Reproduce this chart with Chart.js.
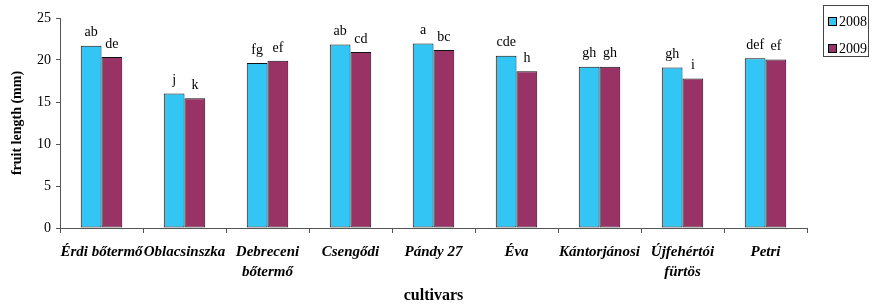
<!DOCTYPE html>
<html>
<head>
<meta charset="utf-8">
<script src="https://cdn.jsdelivr.net/npm/chart.js@4/dist/chart.umd.min.js"></script>
<style>
  html, body { margin: 0; padding: 0; background: #fff; }
  #wrap { position: relative; width: 881px; height: 307px; }
  #legend {
    position: absolute; left: 823px; top: 5px; width: 44px; height: 50px;
    border: 1px solid #444; font-family: "Liberation Serif", serif; font-size: 14px; color: #000;
  }
  #legend div { position: absolute; left: 4px; height: 14px; line-height: 14px; }
  #legend span { display: inline-block; width: 7px; height: 7px; border: 1px solid #000; margin-right: 2px; vertical-align: 0px; }
</style>
</head>
<body>
<div id="wrap">
  <canvas id="chart" width="881" height="307"></canvas>
  <div id="legend">
    <div style="top:9px"><span style="background:#33c5f3"></span>2008</div>
    <div style="top:36px"><span style="background:#993366"></span>2009</div>
  </div>
</div>
<script>
// categorías y valores
const cultivars = ['Érdi bőtermő', 'Oblacsinszka', ['Debreceni', 'bőtermő'], 'Csengődi', 'Pándy 27', 'Éva', 'Kántorjánosi', ['Újfehértói', 'fürtös'], 'Petri'];
const values2008 = [21.7, 16.0, 19.65, 21.85, 21.95, 20.5, 19.2, 19.1, 20.2];
const values2009 = [20.35, 15.45, 19.9, 20.95, 21.2, 18.65, 19.2, 17.8, 20.05];
const letters2008 = ['ab', 'j', 'fg', 'ab', 'a', 'cde', 'gh', 'gh', 'def'];
const letters2009 = ['de', 'k', 'ef', 'cd', 'bc', 'h', 'gh', 'i', 'ef'];
const yTicks = [0, 5, 10, 15, 20, 25];

const serif = '"Liberation Serif", "Times New Roman", serif';

// letras de significancia encima de cada barra
const lettersPlugin = {
  id: 'letters',
  afterDatasetsDraw(chart) {
    const ctx = chart.ctx;
    const sets = [letters2008, letters2009];
    ctx.save();
    ctx.font = '14px ' + serif;
    ctx.fillStyle = '#000';
    ctx.textAlign = 'center';
    ctx.textBaseline = 'bottom';
    chart.data.datasets.forEach((ds, i) => {
      chart.getDatasetMeta(i).data.forEach((bar, j) => {
        ctx.fillText(sets[i][j], bar.x, bar.y - 6);
      });
    });
    ctx.restore();
  }
};

new Chart(document.getElementById('chart'), {
  type: 'bar',
  data: {
    labels: cultivars,
    datasets: [
      { label: '2008', data: values2008, backgroundColor: '#33c5f3', borderColor: '#111', borderWidth: 1, borderSkipped: false, categoryPercentage: 0.5, barPercentage: 1 },
      { label: '2009', data: values2009, backgroundColor: '#993366', borderColor: '#111', borderWidth: 1, borderSkipped: false, categoryPercentage: 0.5, barPercentage: 1 }
    ]
  },
  options: {
    responsive: false,
    animation: false,
    layout: { padding: { top: 18, right: 74, left: 0, bottom: 0 } },
    plugins: { legend: { display: false }, tooltip: { enabled: false } },
    scales: {
      y: {
        min: 0, max: 25,
        afterBuildTicks(scale) { scale.ticks = yTicks.map(v => ({ value: v })); },
        afterFit(scale) { scale.width = 60; },
        border: { color: '#555', width: 1 },
        grid: { drawOnChartArea: false, tickLength: 4, color: '#555' },
        ticks: { color: '#000', font: { family: serif, size: 14 }, padding: 5 },
        title: { display: true, text: 'fruit length (mm)', color: '#000', font: { family: serif, size: 14, weight: 'bold' }, padding: { top: 9, bottom: 0 } }
      },
      x: {
        afterFit(scale) { scale.height = 79; },
        border: { color: '#555', width: 1 },
        grid: { drawOnChartArea: false, tickLength: 5, color: '#555', offset: true },
        ticks: { color: '#000', font: { family: serif, size: 15, style: 'italic', weight: 'bold', lineHeight: 1.33 }, padding: 9, maxRotation: 0, autoSkip: false },
        title: { display: true, text: 'cultivars', color: '#000', font: { family: serif, size: 16, weight: 'bold' }, padding: { top: 0, bottom: 2 } }
      }
    }
  },
  plugins: [lettersPlugin]
});
</script>
</body>
</html>
